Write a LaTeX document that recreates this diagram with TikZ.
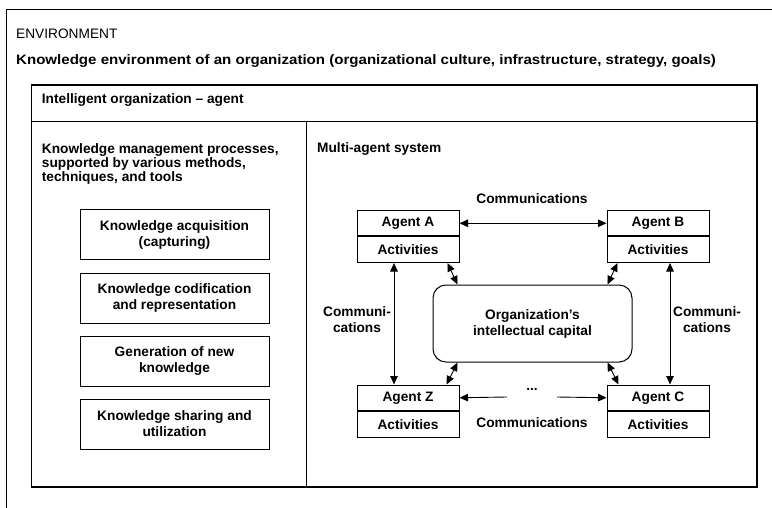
\documentclass[tikz,border=0pt]{standalone}
\usepackage{fontspec}
\setmainfont{Liberation Sans}
\usetikzlibrary{arrows.meta,calc}
\newcommand\dfs{\fontsize{13.7}{14}\selectfont}
\newcommand\bfs{\fontsize{13.7}{16}\selectfont}
\begin{document}
\begin{tikzpicture}[x=1pt,y=-1pt,
  frameline/.style={draw=black,line width=1.1pt},
  plain/.style={inner sep=0pt,font=\dfs},
  bold/.style={inner sep=0pt,font=\bfseries\dfs},
  kbox/.style={draw,line width=1pt,minimum width=189pt,minimum height=50pt,align=center,inner sep=0pt,font=\bfseries\bfs},
  abox/.style={draw,line width=1pt,minimum width=102pt,minimum height=25.5pt,inner sep=0pt,font=\bfseries\dfs},
  capbox/.style={draw,line width=1pt,rounded corners=13pt,minimum width=199pt,minimum height=77pt,align=center,inner sep=0pt,font=\bfseries\bfs},
  lbl/.style={inner sep=0pt,align=center,font=\bfseries\bfs},
  dbl/.style={{Triangle[length=8.5pt,width=7.5pt]}-{Triangle[length=8.5pt,width=7.5pt]},line width=0.9pt},
  sgl/.style={-{Triangle[length=8.5pt,width=7.5pt]},line width=0.9pt}
]
\useasboundingbox (0,0) rectangle (772,508);
% outer environment frame
\draw[frameline] (6.5,520) -- (6.5,9.3) -- (790,9.3);
\node[plain,anchor=base west] (env) at (16,39) {ENVIRONMENT};
\node[bold,anchor=base west] (envtxt) at (16,65) {\scalebox{1.1}[1]{Knowledge environment of an organization (organizational culture, infrastructure, strategy, goals)}};
% intelligent organization frame
\draw[frameline] (31.7,85) rectangle (757,487);
\draw[frameline] (31.7,121.7) -- (757,121.7);
\draw[frameline] (306.5,121.7) -- (306.5,487);
\node[bold,anchor=base west] (org) at (41.7,103.2) {Intelligent organization -- agent};
% left column
\node[bold,anchor=north west,align=left] (kmp) at (41.7,143) {Knowledge management processes,\\supported by various methods,\\techniques, and tools};
\node[kbox] (k1) at (174.5,235) {Knowledge acquisition\\(capturing)};
\node[kbox] (k2) at (174.5,298) {Knowledge codification\\and representation};
\node[kbox] (k3) at (174.5,361) {Generation of new\\knowledge};
\node[kbox] (k4) at (174.5,424) {Knowledge sharing and\\utilization};
% right column
\node[bold,anchor=base west] (mas) at (317,153) {Multi-agent system};
\node[abox,anchor=north west] (agA) at (356.5,210) {Agent A};
\node[abox,anchor=north] (actA) at (agA.south) {Activities};
\node[abox,anchor=north west] (agB) at (606.5,210) {Agent B};
\node[abox,anchor=north] (actB) at (agB.south) {Activities};
\node[abox,anchor=north west] (agZ) at (356.5,384.5) {Agent Z};
\node[abox,anchor=north] (actZ) at (agZ.south) {Activities};
\node[abox,anchor=north west] (agC) at (606.5,384.5) {Agent C};
\node[abox,anchor=north] (actC) at (agC.south) {Activities};
\node[capbox] (cap) at (532.5,323.5) {Organization's\\intellectual capital};
% labels
\node[lbl] (ctop) at (532,198.5) {Communications};
\node[lbl] (cbot) at (532,423) {Communications};
\node[lbl] (cleft) at (357,319.5) {Communi-\\cations};
\node[lbl] (cright) at (707,319.5) {Communi-\\cations};
\node[lbl] (dots) at (532,389) {...};
% connectors
\draw[dbl] (agA.east) -- (agB.west);
\coordinate (lv) at (394,0);
\coordinate (rv) at (670,0);
\draw[dbl] (actA.south -| lv) -- (agZ.north -| lv);
\draw[dbl] (actB.south -| rv) -- (agC.north -| rv);
\coordinate (zl) at (507,397);
\coordinate (zr) at (557,397);
\draw[sgl] (zl) -- (agZ.east);
\draw[sgl] (zr) -- (agC.west);
\draw[dbl] ($(actA.south east)+(-12,0)$) -- ($(cap.north west)+(25,0)$);
\draw[dbl] ($(actB.south west)+(11,0)$) -- ($(cap.north east)+(-25,0)$);
\draw[dbl] ($(cap.south west)+(25,0)$) -- ($(agZ.north east)+(-13,0)$);
\draw[dbl] ($(cap.south east)+(-25,0)$) -- ($(agC.north west)+(12,0)$);
\end{tikzpicture}
\end{document}
